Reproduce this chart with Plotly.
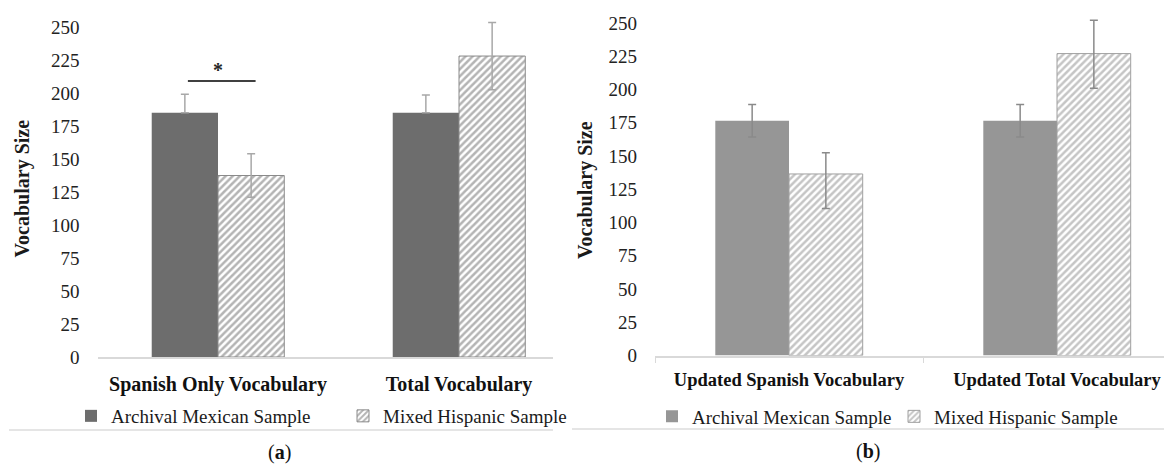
import plotly.graph_objects as go

# ---------------- data ----------------
cats_a = ["Spanish Only Vocabulary", "Total Vocabulary"]
cats_b = ["Updated Spanish Vocabulary", "Updated Total Vocabulary"]
series_names = ["Archival Mexican Sample", "Mixed Hispanic Sample"]

a_archival = [185, 185]
a_archival_err_plus = [14, 13.5]
a_archival_err_minus = [0, 0]
a_mixed = [137.5, 228]
a_mixed_err_plus = [16.5, 25.5]
a_mixed_err_minus = [16.5, 25.5]

b_archival = [176.5, 176.5]
b_archival_err_plus = [12.3, 12.3]
b_archival_err_minus = [12.3, 12.3]
b_mixed = [136.5, 227]
b_mixed_err_plus = [16, 25]
b_mixed_err_minus = [26, 26]

y_ticks = [0, 25, 50, 75, 100, 125, 150, 175, 200, 225, 250]
sig_bracket_x = [-0.125, 0.156]   # in category units of panel (a)
sig_bracket_y = 209
sig_label = "*"
y_title = "Vocabulary Size"
panel_labels = ["(<b>a</b>)", "(<b>b</b>)"]

SERIF = "Liberation Serif"
W, H = 1164, 464

fig = go.Figure()

def add_panel(cats, arch, arch_p, arch_m, mix, mix_p, mix_m, xa, ya, leg,
              dark, hatch_fg, hatch_line, err_col):
    fig.add_trace(go.Bar(
        x=cats, y=arch, name=series_names[0], xaxis=xa, yaxis=ya, legend=leg,
        marker=dict(color=dark, line=dict(width=0)),
        error_y=dict(type="data", symmetric=False, array=arch_p, arrayminus=arch_m,
                     color=err_col, thickness=1.5, width=4),
    ))
    fig.add_trace(go.Bar(
        x=cats, y=mix, name=series_names[1], xaxis=xa, yaxis=ya, legend=leg,
        marker=dict(color="white", line=dict(width=1, color=hatch_line),
                    pattern=dict(shape="/", fgcolor=hatch_fg, bgcolor="white",
                                 size=5, solidity=0.5)),
        error_y=dict(type="data", symmetric=False, array=mix_p, arrayminus=mix_m,
                     color=err_col, thickness=1.5, width=4),
    ))

add_panel(cats_a, a_archival, a_archival_err_plus, a_archival_err_minus,
          a_mixed, a_mixed_err_plus, a_mixed_err_minus, "x", "y", "legend",
          "#6d6d6d", "#6a6a6a", "#8a8a8a", "#a8a8a8")
add_panel(cats_b, b_archival, b_archival_err_plus, b_archival_err_minus,
          b_mixed, b_mixed_err_plus, b_mixed_err_minus, "x2", "y2", "legend2",
          "#969696", "#8c8c8c", "#a0a0a0", "#8a8a8a")

# significance bracket (panel a)
fig.add_shape(type="line", xref="x", yref="y",
              x0=sig_bracket_x[0], x1=sig_bracket_x[1], y0=sig_bracket_y, y1=sig_bracket_y,
              line=dict(color="#404040", width=2))
fig.add_annotation(xref="x", yref="y", x=sum(sig_bracket_x) / 2 - 0.015, y=sig_bracket_y,
                   text="<b>" + sig_label + "</b>", showarrow=False, yanchor="bottom", yshift=-2,
                   font=dict(family=SERIF, size=20, color="#262626"))

# y titles
fig.add_annotation(xref="paper", yref="paper", x=21.5 / W, y=1 - 189 / H, text="<b>" + y_title + "</b>",
                   textangle=-90, showarrow=False, xanchor="center", yanchor="middle",
                   font=dict(family=SERIF, size=20, color="#1a1a1a"))
fig.add_annotation(xref="paper", yref="paper", x=585 / W, y=1 - 190 / H, text="<b>" + y_title + "</b>",
                   textangle=-90, showarrow=False, xanchor="center", yanchor="middle",
                   font=dict(family=SERIF, size=20, color="#1a1a1a"))

# panel labels
fig.add_annotation(xref="paper", yref="paper", x=279 / W, y=1 - 452 / H, text=panel_labels[0],
                   showarrow=False, xanchor="center", yanchor="middle",
                   font=dict(family=SERIF, size=20, color="#111111"))
fig.add_annotation(xref="paper", yref="paper", x=868 / W, y=1 - 451 / H, text=panel_labels[1],
                   showarrow=False, xanchor="center", yanchor="middle",
                   font=dict(family=SERIF, size=20, color="#111111"))

# separator lines under legends
fig.add_shape(type="line", xref="paper", yref="paper", x0=9 / W, x1=553 / W,
              y0=1 - 430 / H, y1=1 - 430 / H, line=dict(color="#dcdcdc", width=1.5))
fig.add_shape(type="line", xref="paper", yref="paper", x0=572 / W, x1=1.0,
              y0=1 - 429 / H, y1=1 - 429 / H, line=dict(color="#dcdcdc", width=1.5))

tickfont_y = dict(family=SERIF, size=19, color="#222222")
tickfont_xa = dict(family=SERIF, size=20, color="#111111", weight="bold")
tickfont_xb = dict(family=SERIF, size=18.5, color="#111111", weight="bold")

# panel (a) axes: x=0 at px 218, 241 px per category; y: 0 at px 357, 1.32 px/unit
fig.update_layout(
    xaxis=dict(domain=[97.5 / W, 553 / W], range=[-0.5, (553 - 218) / 241],
               showline=True, linecolor="#d9d9d9", linewidth=1.5, showgrid=False,
               ticks="", tickfont=tickfont_xa, tickangle=0, ticklabelstandoff=8,
               automargin=False, fixedrange=True),
    yaxis=dict(domain=[(H - 357) / H, (H - 357 + 265 * 1.32) / H], range=[0, 265],
               tickvals=y_ticks, showgrid=False, zeroline=False, showline=False,
               tickfont=tickfont_y, ticklabelstandoff=17, anchor="x", automargin=False),
    xaxis2=dict(domain=[655 / W, 1.0], range=[-0.5, (1164 - 789) / 268], anchor="y2",
                showline=True, linecolor="#d9d9d9", linewidth=1.5, showgrid=False,
                ticks="outside", tickson="boundaries", ticklen=6, tickcolor="#d9d9d9",
                tickfont=tickfont_xb, tickangle=0, ticklabelstandoff=7, automargin=False),
    yaxis2=dict(domain=[(H - 355.5) / H, (H - 355.5 + 265 * 1.33) / H], range=[0, 265],
                tickvals=y_ticks, showgrid=False, zeroline=False, showline=False,
                tickfont=tickfont_y, ticklabelstandoff=17, anchor="x2", automargin=False),
    barmode="group", bargap=0.45, bargroupgap=0,
    legend=dict(orientation="h", x=71 / W, y=1 - 416 / H, xanchor="left", yanchor="middle",
                font=dict(family=SERIF, size=19, color="#1a1a1a"), itemwidth=30,
                entrywidth=227, entrywidthmode="pixels", bgcolor="rgba(0,0,0,0)"),
    legend2=dict(orientation="h", x=652 / W, y=1 - 416.5 / H, xanchor="left", yanchor="middle",
                 font=dict(family=SERIF, size=19, color="#1a1a1a"), itemwidth=30,
                 entrywidth=197, entrywidthmode="pixels", bgcolor="rgba(0,0,0,0)"),
    width=W, height=H, margin=dict(l=0, r=0, t=0, b=0),
    paper_bgcolor="white", plot_bgcolor="white", showlegend=True,
    font=dict(family=SERIF),
)

fig.write_html(
    "out.html",
    config={"displayModeBar": False},
    post_script="document.body.style.margin='0';document.body.style.padding='0';"
                "document.body.style.overflow='hidden';",
)
